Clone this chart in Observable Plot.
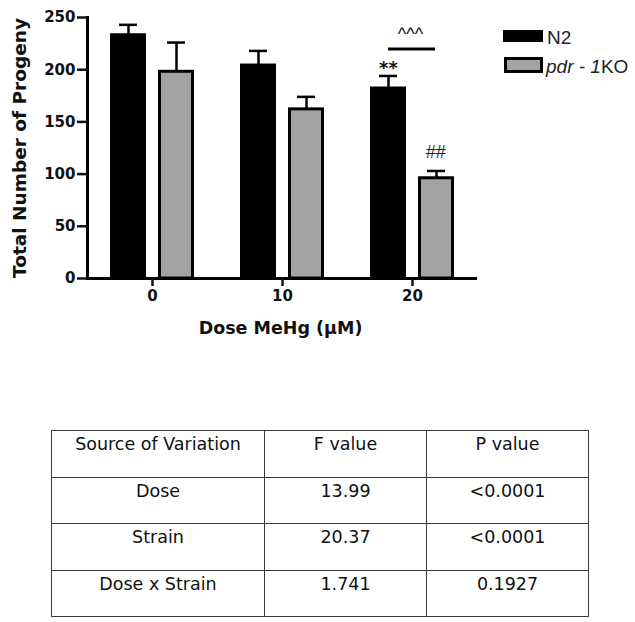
<!DOCTYPE html>
<html>
<head>
<meta charset="utf-8">
<script src="https://cdn.jsdelivr.net/npm/d3@7"></script>
<script src="https://cdn.jsdelivr.net/npm/@observablehq/plot@0.6"></script>
<style>
  html, body { margin: 0; padding: 0; background: #fff; }
  #wrap { position: relative; width: 635px; height: 622px; overflow: hidden; background: #fff; }
  #chart { position: absolute; left: 0; top: 0; }
  .lg-box { position: absolute; box-sizing: border-box; }
  .lg-text { position: absolute; font-family: "Liberation Sans", Arial, sans-serif; font-size: 19px; line-height: 19px; color: #222; white-space: nowrap; }
  #anova { position: absolute; left: 51px; top: 430px; width: 537px; border-collapse: collapse; table-layout: fixed;
           font-family: "DejaVu Sans", sans-serif; font-size: 17.5px; line-height: 20px; color: #111; }
  #anova td { border: 1.5px solid #3a3a3a; height: 46.5px; box-sizing: border-box; vertical-align: top; text-align: center; padding: 3px 0 0 0; }
</style>
</head>
<body>
<div id="wrap">
  <div id="chart"></div>
</div>
<script>
// ---- data ----
const doses = [0, 10, 20];                 // Dose MeHg (µM)
const strains = ["N2", "pdr-1KO"];
const n2Mean = [233, 204, 182];
const n2Sem  = [10, 14, 12];
const koMean = [198, 162, 96];
const koSem  = [28, 12, 7];
const yTicks = [0, 50, 100, 150, 200, 250];
const yTitle = "Total Number of Progeny";
const xTitle = "Dose MeHg (µM)";
const sigN2 = "**";      // vs N2 control, at dose 20
const sigKO = "##";      // vs pdr-1KO control, at dose 20
const sigStrain = "^^^"; // N2 vs pdr-1KO, at dose 20
const sigDose = 20;

const tableHeader = ["Source of Variation", "F value", "P value"];
const sources = ["Dose", "Strain", "Dose x Strain"];
const fValues = ["13.99", "20.37", "1.741"];
const pValues = ["<0.0001", "<0.0001", "0.1927"];

const gray = "#a3a3a6";

const n2 = doses.map((d, i) => ({dose: d, strain: strains[0], mean: n2Mean[i], sem: n2Sem[i]}));
const ko = doses.map((d, i) => ({dose: d, strain: strains[1], mean: koMean[i], sem: koSem[i]}));
const n2Sig = n2.filter(d => d.dose === sigDose);
const koSig = ko.filter(d => d.dose === sigDose);

const chart = Plot.plot({
  width: 635,
  height: 345,
  marginLeft: 87,
  marginRight: 158,
  marginTop: 17,
  marginBottom: 67,
  style: {fontFamily: "DejaVu Sans, sans-serif", fontWeight: "bold", fontSize: "15px", color: "#111", background: "transparent"},
  x: {type: "band", domain: doses, padding: 0},
  y: {domain: [0, 250]},
  marks: [
    // error bars (upper half)
    Plot.ruleX(n2, {x: "dose", y1: "mean", y2: d => d.mean + d.sem, dx: -24, stroke: "#000", strokeWidth: 2.5}),
    Plot.ruleX(ko, {x: "dose", y1: "mean", y2: d => d.mean + d.sem, dx: 24, stroke: "#000", strokeWidth: 2.5}),
    Plot.tickY(n2, {x: "dose", y: d => d.mean + d.sem, insetLeft: 32, insetRight: 80, stroke: "#000", strokeWidth: 2.5}),
    Plot.tickY(ko, {x: "dose", y: d => d.mean + d.sem, insetLeft: 80, insetRight: 32, stroke: "#000", strokeWidth: 2.5}),
    // bars
    Plot.barY(n2, {x: "dose", y: "mean", fill: "#000", stroke: "#000", strokeWidth: 3, insetLeft: 24.5, insetRight: 72.5}),
    Plot.barY(ko, {x: "dose", y: "mean", fill: gray, stroke: "#000", strokeWidth: 3, insetLeft: 72.5, insetRight: 24.5}),
    // axes
    Plot.ruleY([0], {stroke: "#000", strokeWidth: 3}),
    Plot.frame({anchor: "left", stroke: "#000", strokeWidth: 3}),
    Plot.axisY(yTicks, {tickSize: 10, tickPadding: 2, strokeWidth: 2.5, label: null}),
    Plot.axisX({tickSize: 8, tickPadding: 4, strokeWidth: 2.5, label: null}),
    // axis titles
    Plot.text([yTitle], {text: d => d, frameAnchor: "left", rotate: -90, lineAnchor: "top", textAnchor: "middle", dx: -75, fontSize: 18.5, fontWeight: "bold", fill: "#111"}),
    Plot.text([xTitle], {text: d => d, frameAnchor: "bottom", lineAnchor: "middle", textAnchor: "middle", dx: -2, dy: 50, fontSize: 17.5, fontWeight: "bold", fill: "#111"}),
    // significance annotations
    Plot.text(n2Sig, {x: "dose", y: d => d.mean + d.sem, text: () => sigN2, dx: -24, dy: -7.5, fontSize: 18, fontWeight: "bold", fill: "#111"}),
    Plot.text(koSig, {x: "dose", y: d => d.mean + d.sem, text: () => sigKO, dx: 23, dy: -19, fontSize: 18, fontWeight: "normal", fontStyle: "italic", fontFamily: "Liberation Sans, Arial, sans-serif", fill: "#222"}),
    Plot.tickY(n2Sig, {x: "dose", y: d => d.mean + d.sem, dy: -27, insetLeft: 41, insetRight: 42, stroke: "#000", strokeWidth: 3}),
    Plot.text(n2Sig, {x: "dose", y: d => d.mean + d.sem, text: () => sigStrain, dx: -2, dy: -41.7, fontSize: 18, fontWeight: "normal", fontFamily: "Liberation Sans, Arial, sans-serif", fill: "#111"})
  ]
});
document.getElementById("chart").appendChild(chart);

// ---- legend ----
const wrap = document.getElementById("wrap");
function el(tag, cls, css, html) {
  const e = document.createElement(tag);
  if (cls) e.className = cls;
  Object.assign(e.style, css);
  if (html != null) e.innerHTML = html;
  wrap.appendChild(e);
  return e;
}
el("div", "lg-box", {left: "503px", top: "30px", width: "40px", height: "12px", background: "#000"});
el("div", "lg-text", {left: "547px", top: "28px"}, strains[0]);
el("div", "lg-box", {left: "504px", top: "57px", width: "39px", height: "16px", background: gray, border: "3px solid #000"});
const koLabel = el("div", "lg-text", {left: "546px", top: "57px"});
const m = strains[1].match(/^(.*?)-(\d+)(.*)$/);
koLabel.innerHTML = `<i>${m[1]} - ${m[2]}</i>${m[3]}`;

// ---- ANOVA table ----
const table = document.createElement("table");
table.id = "anova";
const rows = [tableHeader].concat(sources.map((s, i) => [s, fValues[i], pValues[i]]));
const widths = [213, 162, 162];
const cg = document.createElement("colgroup");
widths.forEach(w => { const c = document.createElement("col"); c.style.width = w + "px"; cg.appendChild(c); });
table.appendChild(cg);
rows.forEach(r => {
  const tr = document.createElement("tr");
  r.forEach(v => { const td = document.createElement("td"); td.textContent = v; tr.appendChild(td); });
  table.appendChild(tr);
});
wrap.appendChild(table);
</script>
</body>
</html>
